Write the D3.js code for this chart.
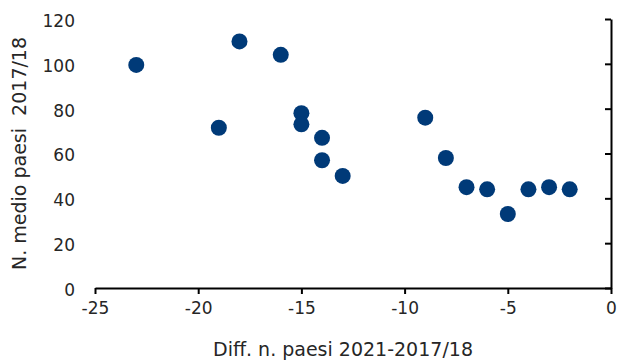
<!DOCTYPE html>
<html>
<head>
<meta charset="utf-8">
<script src="https://cdn.jsdelivr.net/npm/d3@7"></script>
<style>
  body { margin: 0; background: #fff; }
  text { font-family: "DejaVu Sans", sans-serif; fill: #262626; }
</style>
</head>
<body>
<script>
// Scatter data: difference in n. of countries vs average n. of countries 2017/18
const diffValues = [-23, -19, -18, -16, -15, -15, -14, -14, -13, -9, -8, -7, -6, -5, -4, -3, -2];
const avgValues  = [99.5, 71.5, 110, 104, 78, 73, 67, 57, 50, 76, 58, 45, 44, 33, 44, 45, 44];
const xTicks = [-25, -20, -15, -10, -5, 0];
const yTicks = [0, 20, 40, 60, 80, 100, 120];

const w = 619;
const h = 360;
const plotLeft = 95, plotRight = 611, plotTop = 19, plotBottom = 288;

const svg = d3.select("body")
  .append("svg")
  .attr("width", w)
  .attr("height", h);

const x = d3.scaleLinear().domain([-25, 0]).range([plotLeft, plotRight]);
const y = d3.scaleLinear().domain([0, 120]).range([plotBottom, plotTop]);

// x axis along y = 0
const xAxis = svg.append("g")
  .attr("transform", `translate(0, ${y(0)})`)
  .call(d3.axisBottom(x).tickValues(xTicks).tickSize(6).tickSizeOuter(0)
    .tickPadding(8).tickFormat(d => String(d)));
xAxis.select(".domain").attr("stroke", "#000").attr("stroke-width", 2);
xAxis.selectAll(".tick line").attr("stroke", "#000").attr("stroke-width", 2);
xAxis.selectAll("text").style("font-size", "17px").attr("fill", "#262626");

// vertical axis line crossing at x = 0
const yLine = svg.append("g")
  .attr("transform", `translate(${x(0)}, 0)`)
  .call(d3.axisLeft(y).tickValues(yTicks).tickSize(6).tickSizeOuter(0).tickFormat(""));
yLine.select(".domain").attr("stroke", "#000").attr("stroke-width", 2);
yLine.selectAll(".tick line").attr("stroke", "#000").attr("stroke-width", 2);

// y labels on the low side
const yLabels = svg.append("g")
  .attr("transform", `translate(75, 2)`)
  .call(d3.axisLeft(y).tickValues(yTicks).tickSize(0).tickPadding(0));
yLabels.select(".domain").remove();
yLabels.selectAll("text").style("font-size", "17px").attr("fill", "#262626");

// points
svg.append("g")
  .selectAll("circle")
  .data(diffValues.map((d, i) => [d, avgValues[i]]))
  .enter()
  .append("circle")
  .attr("cx", d => x(d[0]))
  .attr("cy", d => y(d[1]))
  .attr("r", 8)
  .attr("fill", "#003a78");

// axis titles
svg.append("text")
  .attr("x", 343)
  .attr("y", 356)
  .attr("text-anchor", "middle")
  .style("font-size", "19px")
  .text("Diff. n. paesi 2021-2017/18");

svg.append("text")
  .attr("transform", `translate(26, ${(plotTop + plotBottom) / 2}) rotate(-90)`)
  .attr("text-anchor", "middle")
  .style("font-size", "19px")
  .style("white-space", "pre")
  .text("N. medio paesi  2017/18");
</script>
</body>
</html>
